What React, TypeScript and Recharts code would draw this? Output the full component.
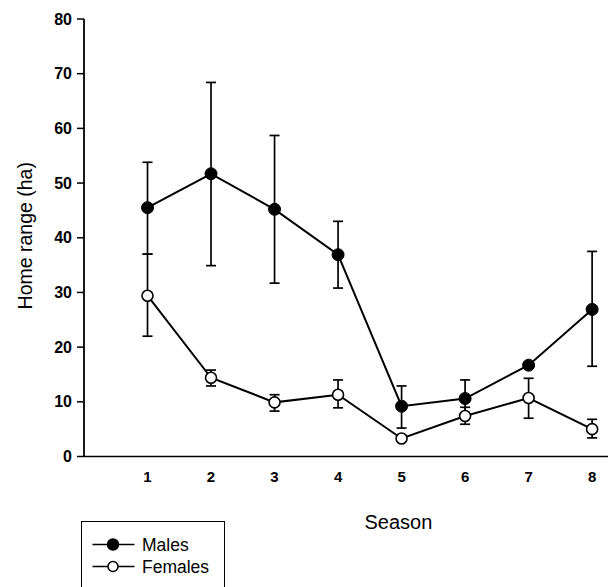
import React from "react";
import { LineChart, Line, XAxis, YAxis, ErrorBar, Legend } from "recharts";

const seasons = [1, 2, 3, 4, 5, 6, 7, 8];
const malesMean = [45.5, 51.7, 45.2, 36.9, 9.2, 10.6, 16.7, 26.9];
const malesLow = [37.0, 34.9, 31.7, 30.8, 5.2, 7.2, 16.2, 16.5];
const malesHigh = [53.8, 68.4, 58.7, 43.0, 12.9, 14.0, 17.2, 37.5];
const femalesMean = [29.4, 14.4, 9.9, 11.3, 3.3, 7.4, 10.7, 5.0];
const femalesLow = [22.0, 12.9, 8.3, 8.9, 2.8, 5.9, 7.0, 3.4];
const femalesHigh = [37.0, 15.8, 11.3, 14.0, 3.8, 9.0, 14.3, 6.8];
const yTicks = [0, 10, 20, 30, 40, 50, 60, 70, 80];

const data = seasons.map((s, i) => ({
  season: s,
  males: malesMean[i],
  malesErr: [malesMean[i] - malesLow[i], malesHigh[i] - malesMean[i]],
  females: femalesMean[i],
  femalesErr: [femalesMean[i] - femalesLow[i], femalesHigh[i] - femalesMean[i]],
}));

const FONT = "'Liberation Sans', Arial, Helvetica, sans-serif";

const YLabel = (props: any) => {
  const vb = props.viewBox || { x: 14, y: 19, width: 70, height: 437.5 };
  const x = vb.x + 11;
  const y = vb.y + vb.height / 2 - 2;
  return (
    <text
      x={x}
      y={y}
      transform={`rotate(-90 ${x} ${y})`}
      textAnchor="middle"
      dominantBaseline="central"
      fontFamily={FONT}
      fontSize={19.5}
      fill="#000"
    >
      Home range (ha)
    </text>
  );
};

const XLabel = (props: any) => {
  const vb = props.viewBox || { x: 84, y: 456.5, width: 524, height: 30 };
  const x = vb.x + vb.width * 0.6;
  const y = vb.y + 72;
  return (
    <text x={x} y={y} textAnchor="middle" fontFamily={FONT} fontSize={20} fill="#000">
      Season
    </text>
  );
};

const LegendContent = (props: any) => {
  const payload = props.payload || [];
  const labels: Record<string, string> = { males: "Males", females: "Females" };
  const order = ["males", "females"];
  return (
    <svg width={141} height={64} style={{ display: "block" }}>
      {order.map((key, i) => {
        const cy = 22.5 + i * 22;
        const filled = key === "males";
        const item = payload.find((p: any) => p.dataKey === key);
        const text = item ? labels[item.dataKey] : labels[key];
        return (
          <g key={key}>
            <line x1={10.5} x2={52.5} y1={cy} y2={cy} stroke="#000" strokeWidth={1.6} />
            <circle
              cx={31}
              cy={cy}
              r={filled ? 5.5 : 5}
              fill={filled ? "#000" : "#fff"}
              stroke="#000"
              strokeWidth={1.5}
            />
            <text x={60} y={cy + 6} fontFamily={FONT} fontSize={17.5} fill="#000">
              {text}
            </text>
          </g>
        );
      })}
    </svg>
  );
};

export default function App() {
  return (
    <div style={{ position: "fixed", left: 0, top: 0, width: 609, height: 587, background: "#fff" }}>
      <LineChart
        width={609}
        height={587}
        data={data}
        margin={{ top: 19, right: 1, bottom: 100.5, left: 14 }}
      >
        <XAxis
          dataKey="season"
          type="number"
          domain={[0, 8.25]}
          ticks={seasons}
          interval={0}
          tickLine={false}
          tickMargin={9}
          height={30}
          axisLine={{ stroke: "#000", strokeWidth: 1.6 }}
          tick={{ fill: "#000", fontSize: 15, fontWeight: 700, fontFamily: FONT }}
          label={<XLabel />}
        />
        <YAxis
          type="number"
          domain={[0, 80]}
          ticks={yTicks}
          interval={0}
          width={70}
          tickSize={7}
          tickMargin={5}
          axisLine={{ stroke: "#000", strokeWidth: 1.8 }}
          tickLine={{ stroke: "#000", strokeWidth: 1.5 }}
          tick={{ fill: "#000", fontSize: 16, fontWeight: 700, fontFamily: FONT }}
          label={<YLabel />}
        />
        <Legend
          verticalAlign="middle"
          align="center"
          layout="horizontal"
          width={144}
          height={66}
          wrapperStyle={{
            left: 81,
            top: 521,
            width: 144,
            height: 66,
            border: "1.5px solid #000",
            borderBottom: "none",
            boxSizing: "border-box",
            background: "#fff",
            margin: 0,
            padding: 0,
          }}
          content={<LegendContent />}
        />
        <Line
          dataKey="males"
          stroke="#000"
          strokeWidth={2}
          isAnimationActive={false}
          dot={{ r: 6, fill: "#000", stroke: "#000", strokeWidth: 1 }}
          activeDot={false}
        >
          <ErrorBar dataKey="malesErr" direction="y" width={5} stroke="#000" strokeWidth={1.7} isAnimationActive={false} />
        </Line>
        <Line
          dataKey="females"
          stroke="#000"
          strokeWidth={2}
          isAnimationActive={false}
          dot={{ r: 5.5, fill: "#fff", stroke: "#000", strokeWidth: 1.6 }}
          activeDot={false}
        >
          <ErrorBar dataKey="femalesErr" direction="y" width={5} stroke="#000" strokeWidth={1.7} isAnimationActive={false} />
        </Line>
      </LineChart>
    </div>
  );
}
